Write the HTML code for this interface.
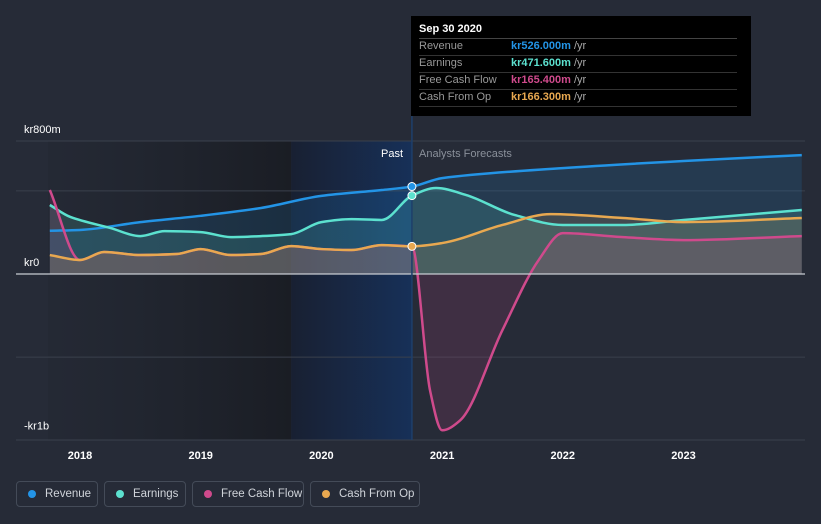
<!DOCTYPE html>
<html><head><meta charset="utf-8"><style>
body{margin:0;background:#262b37;width:821px;height:524px;overflow:hidden;font-family:"Liberation Sans",sans-serif}
svg{position:absolute;left:0;top:0}
.leg{position:absolute;top:481px;height:26px;border:1px solid #444b58;border-radius:4px;color:#d0d4da;font-size:11.5px;line-height:24px;padding:0 0 0 28px;box-sizing:border-box;white-space:nowrap}
.leg i{position:absolute;left:11px;top:8px;width:8px;height:8px;border-radius:50%}
#tip{position:absolute;left:411px;top:16px;width:340px;height:100px;background:#000;font-size:11px;color:#999}
#tip div{position:absolute;left:8px;width:318px;border-bottom:1px solid #333;height:17px;line-height:17px}
#tip b{position:absolute;left:92px;font-weight:bold}
</style></head><body>
<svg width="821" height="524" id="chart"></svg>
<div id="tip">
<div style="top:5px;color:#fff;font-weight:bold;font-size:11px;border-bottom:1px solid #444">Sep 30 2020</div>
<div style="top:22px">Revenue<b style="color:#2394e6">kr526.000m <span style="color:#aaa;font-weight:normal">/yr</span></b></div>
<div style="top:39px">Earnings<b style="color:#5ce1cf">kr471.600m <span style="color:#aaa;font-weight:normal">/yr</span></b></div>
<div style="top:56px">Free Cash Flow<b style="color:#cf4a8c">kr165.400m <span style="color:#aaa;font-weight:normal">/yr</span></b></div>
<div style="top:73px">Cash From Op<b style="color:#e8a850">kr166.300m <span style="color:#aaa;font-weight:normal">/yr</span></b></div>
</div>
<div class="leg" style="left:16px;width:82px"><i style="background:#2394e6"></i>Revenue</div>
<div class="leg" style="left:104px;width:82px"><i style="background:#5ce1cf"></i>Earnings</div>
<div class="leg" style="left:192px;width:112px"><i style="background:#cf4a8c"></i>Free Cash Flow</div>
<div class="leg" style="left:310px;width:110px"><i style="background:#e8a850"></i>Cash From Op</div>
<script>
const revT=[2017.75,2018,2018.5,2019,2019.5,2020,2020.5,2020.75,2021,2022,2023,2023.98];
const revV=[260,265,312,350,397,470,505,526,577,637,680,715];
const earT=[2017.75,2017.92,2018.25,2018.5,2018.7,2019,2019.25,2019.5,2019.75,2020,2020.25,2020.5,2020.75,2020.95,2021.2,2021.6,2022,2022.5,2023,2023.98];
const earV=[415,343,277,228,258,252,222,228,240,312,330,325,471.6,517,475,355,295,295,325,385];
const fcfT=[2017.75,2018,2018.2,2018.5,2018.8,2019,2019.25,2019.5,2019.75,2020,2020.25,2020.5,2020.75,2020.9,2021,2021.15,2021.5,2021.8,2022,2022.5,2023,2023.98];
const fcfV=[505,84,132,114,120,150,114,120,168,150,144,174,165.4,-700,-940,-880,-337,84,246,222,204,228];
const cfoT=[2017.75,2018,2018.2,2018.5,2018.8,2019,2019.25,2019.5,2019.75,2020,2020.25,2020.5,2020.75,2021,2021.5,2021.9,2022.5,2023,2023.98];
const cfoV=[114,84,132,114,120,150,114,120,168,150,144,174,166.3,186,295,360,337,312,337];
const yTicks=[800,0,-1000];const yLabels=["kr800m","kr0","-kr1b"];
const xTicks=[2018,2019,2020,2021,2022,2023];
const X=t=>80+(t-2018)*120.7, Y=v=>274-v*0.16625;
const svg=document.getElementById('chart');const NS='http://www.w3.org/2000/svg';
function mk(tag,a,p){const e=document.createElementNS(NS,tag);for(const k in a)e.setAttribute(k,a[k]);(p||svg).appendChild(e);return e;}
svg.innerHTML='<defs><linearGradient id="pg" x1="0" x2="1"><stop offset="0" stop-color="#1e222b" stop-opacity="0.2"/><stop offset="1" stop-color="#1a1d24"/></linearGradient><linearGradient id="bg2" x1="0" x2="1"><stop offset="0" stop-color="#182032"/><stop offset="1" stop-color="#173058"/></linearGradient></defs>';
let r=mk('rect',{x:48,y:141,width:X(2019.75)-48,height:299,fill:'url(#pg)'});
r=mk('rect',{x:X(2019.75),y:141,width:X(2020.75)-X(2019.75),height:299,fill:'url(#bg2)'});
[800,500,-500].forEach(v=>{const l=mk('line',{x1:16,x2:805,y1:Y(v),y2:Y(v),stroke:'#3a404c'});});
mk('line',{x1:16,x2:805,y1:440,y2:440,stroke:'#3a404c'});
function path(T,V){const p=T.map((t,i)=>[X(t),Y(V[i])]);const n=p.length;const s=[],m=[];
for(let i=0;i<n-1;i++)s.push((p[i+1][1]-p[i][1])/(p[i+1][0]-p[i][0]));
for(let i=0;i<n;i++){if(i==0)m.push(s[0]);else if(i==n-1)m.push(s[n-2]);else m.push(s[i-1]*s[i]<=0?0:2/(1/s[i-1]+1/s[i]));}
let d='M'+p[0];for(let i=0;i<n-1;i++){const h=(p[i+1][0]-p[i][0])/3;d+='C'+[p[i][0]+h,p[i][1]+m[i]*h]+' '+[p[i+1][0]-h,p[i+1][1]-m[i+1]*h]+' '+p[i+1];}return d;}
const S=[[revT,revV,'#2394e6','revenue'],[earT,earV,'#5ce1cf','earnings'],[fcfT,fcfV,'#cf4a8c','free-cash-flow'],[cfoT,cfoV,'#e8a850','cash-from-op']];
S.forEach(s=>{const d=path(s[0],s[1]);const a=mk('path',{d:d+'L'+X(s[0][s[0].length-1])+','+Y(0)+'L'+X(s[0][0])+','+Y(0)+'Z',fill:s[2],'fill-opacity':0.15});});
S.forEach(s=>{const l=mk('path',{d:path(s[0],s[1]),fill:'none',stroke:s[2],'stroke-width':2.5});});
mk('line',{x1:16,x2:805,y1:Y(0),y2:Y(0),stroke:'#c8ccd2','stroke-width':1.2});
mk('line',{x1:X(2020.75),x2:X(2020.75),y1:16,y2:440,stroke:'#1e3f6b','stroke-width':1.5});
[[revV[7],'#2394e6'],[earV[12],'#5ce1cf'],[cfoV[12],'#e8a850']].forEach(m=>{const c=mk('circle',{cx:X(2020.75),cy:Y(m[0]),r:4,fill:m[1],stroke:'#fff','stroke-width':1});});
yTicks.forEach((v,i)=>{const t=mk('text',{x:24,y:Y(v)-8+(i==2?-3:0),fill:'#fff','font-size':11});t.textContent=yLabels[i];});
xTicks.forEach(v=>{const t=mk('text',{x:X(v),y:459,fill:'#fff','font-size':11,'font-weight':'bold','text-anchor':'middle'});t.textContent=v;});
let t=mk('text',{x:403,y:157,fill:'#fff','font-size':11,'text-anchor':'end'});t.textContent='Past';
t=mk('text',{x:419,y:157,fill:'#8a909a','font-size':11});t.textContent='Analysts Forecasts';
</script></body></html>
